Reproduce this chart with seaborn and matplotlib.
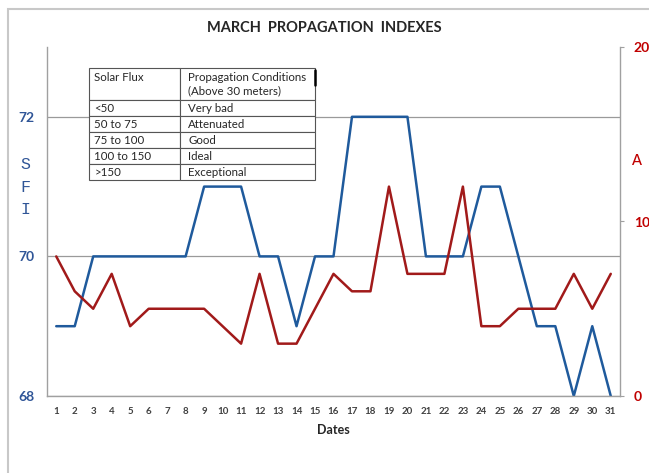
import matplotlib
matplotlib.use("Agg")
import matplotlib.pyplot as plt
from matplotlib.patches import Rectangle
import seaborn as sns
import pandas as pd

# datos
dias = list(range(1, 32))
sfi = [69, 69, 70, 70, 70, 70, 70, 70, 71, 71, 71, 70, 70, 69, 70, 70,
       72, 72, 72, 72, 70, 70, 70, 71, 71, 70, 69, 69, 68, 69, 68]
indice_a = [8, 6, 5, 7, 4, 5, 5, 5, 5, 4, 3, 7, 3, 3, 5, 7,
            6, 6, 12, 7, 7, 7, 12, 4, 4, 5, 5, 5, 7, 5, 7]

tabla_flujo = ["<50", "50 to 75", "75 to 100", "100 to 150", ">150"]
tabla_cond = ["Very bad", "Attenuated", "Good", "Ideal", "Exceptional"]

azul = "#1f5a9c"
rojo = "#a11a1a"

sns.set_style("white")
plt.rcParams["font.family"] = ["Lato", "DejaVu Sans"]

df = pd.DataFrame({"dia": dias, "sfi": sfi, "a": indice_a})

fig = plt.figure(figsize=(6.49, 4.73), dpi=100)
ax = fig.add_axes([47 / 649, 1 - 396 / 473, 573 / 649, 349 / 473])
ax2 = ax.twinx()

sns.lineplot(data=df, x="dia", y="sfi", ax=ax, color=azul, linewidth=1.8)
sns.lineplot(data=df, x="dia", y="a", ax=ax2, color=rojo, linewidth=1.8)

ax.set_xlim(0.5, 31.5)
ax.set_ylim(68, 73)
ax.set_yticks([68, 70, 72])
ax2.set_ylim(0, 20)
ax2.set_yticks([0, 10, 20])
ax.set_xticks(dias)

ax.grid(axis="y", color="#9a9a9a", linewidth=0.9)
ax.grid(axis="x", visible=False)
ax2.grid(False)

for a in (ax, ax2):
    for s in a.spines.values():
        s.set_color("#a0a0a0")
        s.set_linewidth(1.0)
    a.spines["top"].set_visible(False)
ax.spines["right"].set_visible(False)
ax2.spines["left"].set_visible(False)
ax2.spines["bottom"].set_visible(False)

ax.tick_params(axis="x", length=0, pad=8, labelsize=7, labelcolor="#404040")
ax.tick_params(axis="y", length=0, pad=9, labelsize=10, labelcolor="#2f5597")
ax2.tick_params(axis="y", length=3, width=0.8, color="#a0a0a0", pad=7,
                labelsize=10, labelcolor="#c00000")
for t in ax.get_xticklabels():
    t.set_fontweight("bold")
for t in ax.get_yticklabels() + ax2.get_yticklabels():
    t.set_fontweight("bold")

ax.set_xlabel("Dates", fontsize=9, fontweight="bold", labelpad=6)
ax.set_ylabel("")
ax2.set_ylabel("")

fig.text(25 / 649, 1 - 187 / 473, "S\nF\nI", ha="center", va="center",
         fontsize=12, color="#2f5597", family="Liberation Mono",
         linespacing=1.6)
fig.text(637 / 649, 1 - 160 / 473, "A", ha="center", va="center",
         fontsize=12, color="#c00000", family="Liberation Mono")

fig.text(0.5, 1 - 28 / 473, "MARCH  PROPAGATION  INDEXES", ha="center",
         va="center", fontsize=10.5, fontweight="bold")

# tabla de referencia
filas = [["Solar Flux\n ", "Propagation Conditions\n(Above 30 meters)"]]
filas += [[f, c] for f, c in zip(tabla_flujo, tabla_cond)]
tab = ax2.table(cellText=filas, colWidths=[0.403, 0.597], cellLoc="left",
                bbox=[42 / 573, (396 - 180) / 349, 226 / 573, 112 / 349])
tab.auto_set_font_size(False)
tab.set_fontsize(8.3)
tab.set_zorder(10)
for (r, c), cell in tab.get_celld().items():
    cell.set_edgecolor("#555555")
    cell.set_linewidth(0.8)
    cell.set_facecolor("white")
    cell.set_height(2.0 if r == 0 else 1.0)
    cell.PAD = 0.06

# marca negra junto a la cabecera de la tabla
fig.add_artist(plt.Line2D([315 / 649, 315 / 649], [1 - 70 / 473, 1 - 85 / 473],
                          transform=fig.transFigure, color="black", linewidth=1.8))

# marco exterior
fig.patches.append(Rectangle((8 / 649, -0.1), 1.2, 1 - 9 / 473 + 0.1,
                             transform=fig.transFigure, fill=False,
                             edgecolor="#c8c8c8", linewidth=1.5))

fig.savefig("out.png", dpi=100)
